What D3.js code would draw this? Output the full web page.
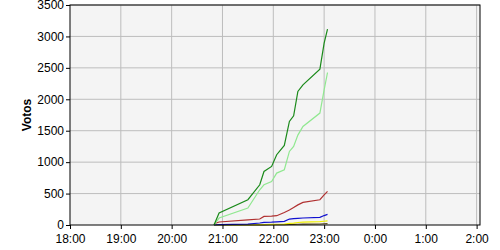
<!DOCTYPE html>
<html>
<head>
<meta charset="utf-8">
<script src="https://cdn.jsdelivr.net/npm/d3@7"></script>
<style>
  body { margin: 0; background: #fff; }
  svg { display: block; }
  .tick text { font-family: "Liberation Sans", Arial, sans-serif; font-size: 12px; fill: #000; }
</style>
</head>
<body>
<div id="chart"></div>
<script>
// minutes after 18:00 for each reading
const times = [170, 176, 210, 224, 229, 238, 244, 253, 259, 264, 269, 275, 295, 300, 304]

const seriesDarkGreen  = [0, 191, 402, 640, 852, 932, 1118, 1266, 1647, 1738, 2124, 2230, 2480, 2893, 3116]
const seriesLightGreen = [0, 111, 270, 561, 640, 693, 826, 879, 1170, 1250, 1430, 1568, 1781, 2151, 2426]
const seriesRed        = [20, 48, 80, 95, 137, 140, 148, 200, 240, 280, 320, 359, 402, 480, 534]
const seriesBlue       = [0, 5, 15, 32, 41, 45, 50, 57, 95, 100, 105, 111, 121, 150, 169]
const seriesYellow     = [0, 0, 2, 5, 8, 10, 12, 15, 25, 30, 40, 45, 55, 60, 65]
const seriesDark       = [0, 0, 0, 2, 3, 4, 5, 6, 8, 10, 12, 14, 16, 20, 22]

const series = [
  {name: 'dark',   values: seriesDark,       color: '#5a4a1a'},
  {name: 'yellow', values: seriesYellow,     color: '#f0f000'},
  {name: 'blue',   values: seriesBlue,       color: '#1010d0'},
  {name: 'red',    values: seriesRed,        color: '#b03030'},
  {name: 'light',  values: seriesLightGreen, color: '#90e890'},
  {name: 'green',  values: seriesDarkGreen,  color: '#1a8a1a'}
]

const xTickLabels = ['18:00', '19:00', '20:00', '21:00', '22:00', '23:00', '0:00', '1:00', '2:00']
const yTicks = [0, 500, 1000, 1500, 2000, 2500, 3000, 3500]

const width = 500, height = 250
const margin = {top: 5, right: 20, bottom: 25, left: 70}

const svg = d3.select('#chart').append('svg')
  .attr('width', width)
  .attr('height', height)

const x = d3.scaleLinear()
  .domain([0, 484])
  .range([margin.left, width - margin.right])

const y = d3.scaleLinear()
  .domain([0, 3500])
  .range([height - margin.bottom, margin.top])

// plot background
svg.append('rect')
  .attr('x', x(0)).attr('y', y(3500))
  .attr('width', x(484) - x(0))
  .attr('height', y(0) - y(3500))
  .attr('fill', '#f4f4f4')

// grid
const xTickVals = xTickLabels.map((d, i) => i * 60)
svg.append('g')
  .selectAll('line.vgrid')
  .data(xTickVals.slice(1))
  .join('line')
  .attr('x1', d => x(d)).attr('x2', d => x(d))
  .attr('y1', y(0)).attr('y2', y(3500))
  .attr('stroke', '#bdbdbd')
svg.append('g')
  .selectAll('line.hgrid')
  .data(yTicks.slice(1))
  .join('line')
  .attr('x1', x(0)).attr('x2', x(484))
  .attr('y1', d => y(d)).attr('y2', d => y(d))
  .attr('stroke', '#bdbdbd')

// lines
const line = d3.line()
  .x((d, i) => x(times[i]))
  .y(d => y(d))

svg.append('g')
  .selectAll('path')
  .data(series)
  .join('path')
  .attr('d', d => line(d.values))
  .attr('fill', 'none')
  .attr('stroke', d => d.color)
  .attr('stroke-width', 1.2)

// frame
svg.append('rect')
  .attr('x', x(0)).attr('y', y(3500))
  .attr('width', x(484) - x(0))
  .attr('height', y(0) - y(3500))
  .attr('fill', 'none')
  .attr('stroke', '#000')

// axes
const xAxis = d3.axisBottom(x)
  .tickValues(xTickVals)
  .tickFormat((d, i) => xTickLabels[i])
  .tickSize(4)
  .tickSizeOuter(0)
svg.append('g')
  .attr('transform', `translate(0,${y(0)})`)
  .call(xAxis)
  .call(g => g.select('.domain').remove())
  .call(g => g.selectAll('.tick text').attr('dy', '0.9em'))

const yAxis = d3.axisLeft(y)
  .tickValues(yTicks)
  .tickFormat(d3.format('d'))
  .tickSize(4)
  .tickSizeOuter(0)
svg.append('g')
  .attr('transform', `translate(${x(0)},0)`)
  .call(yAxis)
  .call(g => g.select('.domain').remove())
  .call(g => g.selectAll('.tick text').attr('x', -6))

svg.append('text')
  .attr('transform', `translate(31,${(y(0) + y(3500)) / 2}) rotate(-90)`)
  .attr('text-anchor', 'middle')
  .style('font-family', '"Liberation Sans", Arial, sans-serif')
  .style('font-size', '12px')
  .style('font-weight', 'bold')
  .text('Votos')
</script>
</body>
</html>
